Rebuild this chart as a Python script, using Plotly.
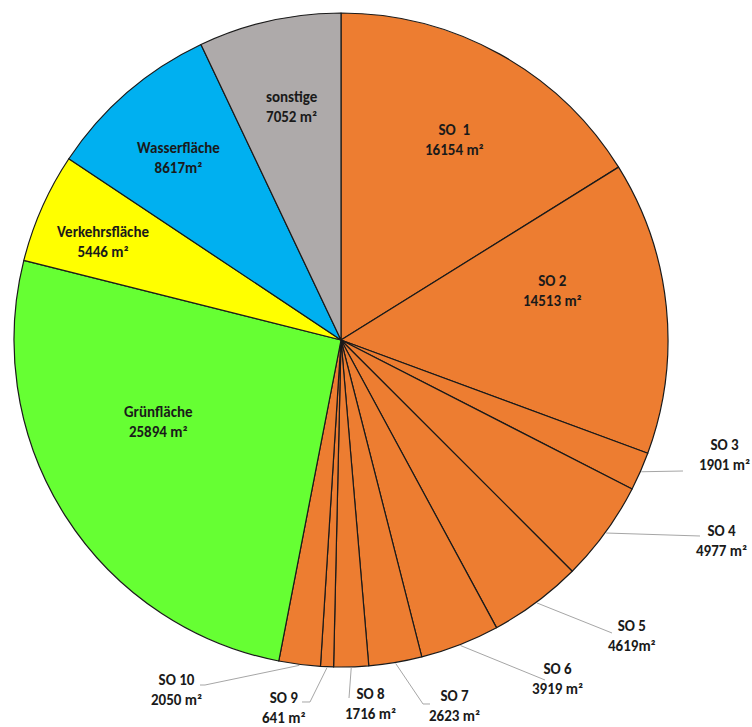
import math
import plotly.graph_objects as go

# ---- data ----
labels = ["SO  1", "SO 2", "SO 3", "SO 4", "SO 5", "SO 6", "SO 7", "SO 8", "SO 9", "SO 10",
          "Grünfläche", "Verkehrsfläche", "Wasserfläche", "sonstige"]
values = [16154, 14513, 1901, 4977, 4619, 3919, 2623, 1716, 641, 2050, 25894, 5446, 8617, 7052]
value_texts = ["16154 m²", "14513 m²", "1901 m²", "4977 m²", "4619m²", "3919 m²", "2623 m²",
               "1716 m²", "641 m²", "2050 m²", "25894 m²", "5446 m²", "8617m²", "7052 m²"]
colors = ["#ED7D31"] * 10 + ["#66FF33", "#FFFF00", "#00B0F0", "#AEAAAA"]

# ---- layout helpers ----
W, H = 752, 727
CX, CY, R = 341, 340, 327
# label centres (pixels) and leader-line end points (None = inside label)
label_pos = [(455, 140), (552, 291), (724, 455), (721, 541), (632, 636), (557, 679),
             (455, 706), (370, 704), (283, 708), (176, 690), (158, 422), (103, 242),
             (178, 158), (292, 107)]
leader_ends = [None, None, [(683, 471)], [(700, 536)], [(612, 633)], [(545, 680)],
               [(423, 704), (430, 704)], [(349, 698)], [(310, 702), (302, 702)],
               [(205, 685), (200, 685)], None, None, None, None]


def px(x):
    return x / W


def py(y):
    return 1 - y / H


fig = go.Figure(go.Pie(
    labels=labels, values=values, sort=False, direction="clockwise", rotation=0,
    marker=dict(colors=colors, line=dict(color="#1a1a1a", width=1.2)),
    textinfo="none", hoverinfo="label+value", showlegend=False,
    domain=dict(x=[px(CX - R), px(CX + R)], y=[py(CY + R), py(CY - R)]),
))

total = sum(values)
cum = 0
annotations = []
shapes = []
for i, v in enumerate(values):
    mid = (cum + v / 2) / total * 2 * math.pi
    cum += v
    lx, ly = label_pos[i]
    annotations.append(dict(
        x=px(lx), y=py(ly), xref="paper", yref="paper", showarrow=False,
        text=f"<b>{labels[i]}</b><br><b>{value_texts[i]}</b>",
        font=dict(family="Carlito, Lato, 'Open Sans', sans-serif", size=15, color="#1a1a1a"),
        align="center", xanchor="center", yanchor="middle",
    ))
    if leader_ends[i]:
        sx = CX + (R + 1) * math.sin(mid)
        sy = CY - (R + 1) * math.cos(mid)
        pts = [(sx, sy)] + leader_ends[i]
        path = "M " + " L ".join(f"{px(x):.5f},{py(y):.5f}" for x, y in pts)
        shapes.append(dict(type="path", path=path, xref="paper", yref="paper",
                           line=dict(color="#A6A6A6", width=1)))

fig.update_layout(
    width=W, height=H, margin=dict(l=0, r=0, t=0, b=0),
    paper_bgcolor="white", plot_bgcolor="white",
    annotations=annotations, shapes=shapes,
)
fig.write_html("out.html")
